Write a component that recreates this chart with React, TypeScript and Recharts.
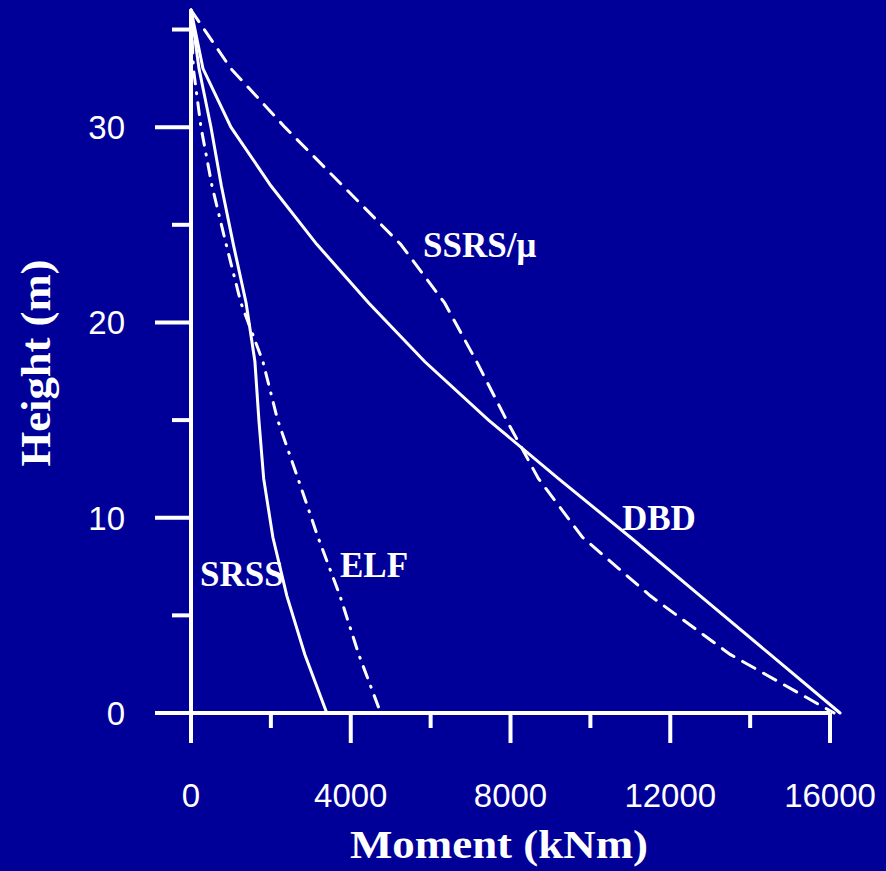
import { LineChart, Line, XAxis, YAxis, ReferenceLine, ReferenceDot, Label } from 'recharts';

const BG = '#000099';
const FG = '#ffffff';

// storey heights (m), top to base
const heights = [36, 33, 30, 27, 24, 21, 18, 15, 12, 9, 6, 3, 0];

// moments (kNm), one per storey height
const dbdMoments = [0, 300, 1000, 2000, 3150, 4450, 5850, 7450, 9200, 11000, 12750, 14500, 16250];
const ssrsMoments = [0, 1000, 2350, 3800, 5250, 6350, 7150, 7900, 8700, 9800, 11500, 13500, 16100];
const elfMoments = [0, 60, 250, 525, 880, 1250, 1800, 2170, 2680, 3180, 3730, 4200, 4750];
const srssMoments = [0, 200, 500, 760, 1060, 1380, 1600, 1700, 1820, 2050, 2400, 2850, 3400];

const xTicks = [0, 2000, 4000, 6000, 8000, 10000, 12000, 14000, 16000];
const yTicks = [0, 5, 10, 15, 20, 25, 30, 35];

const toPoints = (moments: number[]) => moments.map((m, i) => ({ m, h: heights[i] }));

const dbd = toPoints(dbdMoments);
const ssrs = toPoints(ssrsMoments);
const elf = toPoints(elfMoments);
const srss = toPoints(srssMoments);

const annotations = [
  { text: 'SSRS/\u03bc', m: 5810, h: 23.35 },
  { text: 'DBD', m: 10790, h: 9.39 },
  { text: 'SRSS', m: 225, h: 6.52 },
  { text: 'ELF', m: 3730, h: 6.98 },
];

const sans = '"Liberation Sans", Arial, sans-serif';
const serif = '"Liberation Serif", "Times New Roman", serif';

function XTick({ x, y, payload }: any) {
  const major = payload.value % 4000 === 0;
  return (
    <g>
      <line x1={x} x2={x} y1={y} y2={y + (major ? 30 : 15)} stroke={FG} strokeWidth={4} />
      {major && (
        <text x={x} y={y + 94} textAnchor="middle" fill={FG} fontSize={33} fontFamily={sans}>
          {payload.value}
        </text>
      )}
    </g>
  );
}

function YTick({ x, y, payload }: any) {
  const major = payload.value % 10 === 0;
  return (
    <g>
      <line x1={x - (major ? 36 : 19)} x2={x} y1={y} y2={y} stroke={FG} strokeWidth={4} />
      {major && (
        <text x={x - 66} y={y + 12} textAnchor="end" fill={FG} fontSize={33} fontFamily={sans}>
          {payload.value}
        </text>
      )}
    </g>
  );
}

const annotationShape = (text: string) => (props: any) => (
  <text x={props.cx} y={props.cy} fill={FG} fontSize={35} fontWeight="bold" fontFamily={serif}>
    {text}
  </text>
);

export default function App() {
  return (
    <div style={{ position: 'fixed', left: 0, top: 0, width: 886, height: 871, background: BG }}>
      <LineChart width={886} height={871} margin={{ top: 10, right: 36, bottom: 0, left: 0 }}>
        <XAxis
          type="number"
          dataKey="m"
          domain={[0, 16500]}
          ticks={xTicks}
          interval={0}
          axisLine={false}
          tickLine={false}
          tickSize={0}
          tickMargin={0}
          height={158}
          tick={<XTick />}
        >
          <Label
            content={() => (
              <text
                x={499}
                y={858}
                textAnchor="middle"
                fill={FG}
                fontSize={41}
                fontWeight="bold"
                fontFamily={serif}
                textLength={298}
                lengthAdjust="spacingAndGlyphs"
              >
                Moment (kNm)
              </text>
            )}
          />
        </XAxis>
        <YAxis
          type="number"
          dataKey="h"
          domain={[0, 36]}
          ticks={yTicks}
          interval={0}
          width={191}
          axisLine={{ stroke: FG, strokeWidth: 4 }}
          tickLine={false}
          tickSize={0}
          tickMargin={0}
          tick={<YTick />}
        >
          <Label
            content={() => (
              <text
                x={50}
                y={363}
                transform="rotate(-90 50 363)"
                textAnchor="middle"
                fill={FG}
                fontSize={42}
                fontWeight="bold"
                fontFamily={serif}
                textLength={207}
                lengthAdjust="spacingAndGlyphs"
              >
                Height (m)
              </text>
            )}
          />
        </YAxis>
        <ReferenceLine
          segment={[
            { x: 0, y: 0 },
            { x: 16000, y: 0 },
          ]}
          stroke={FG}
          strokeWidth={4}
        />
        <Line
          data={srss}
          dataKey="h"
          type="linear"
          stroke={FG}
          strokeWidth={3}
          strokeLinecap="round"
          dot={false}
          isAnimationActive={false}
        />
        <Line
          data={elf}
          dataKey="h"
          type="linear"
          stroke={FG}
          strokeWidth={3}
          strokeLinecap="round"
          strokeDasharray="12 9 1 9"
          dot={false}
          isAnimationActive={false}
        />
        <Line
          data={dbd}
          dataKey="h"
          type="linear"
          stroke={FG}
          strokeWidth={3}
          strokeLinecap="round"
          dot={false}
          isAnimationActive={false}
        />
        <Line
          data={ssrs}
          dataKey="h"
          type="linear"
          stroke={FG}
          strokeWidth={3}
          strokeLinecap="round"
          strokeDasharray="14 10"
          dot={false}
          isAnimationActive={false}
        />
        {annotations.map((a) => (
          <ReferenceDot key={a.text} x={a.m} y={a.h} r={0} shape={annotationShape(a.text)} />
        ))}
      </LineChart>
    </div>
  );
}
